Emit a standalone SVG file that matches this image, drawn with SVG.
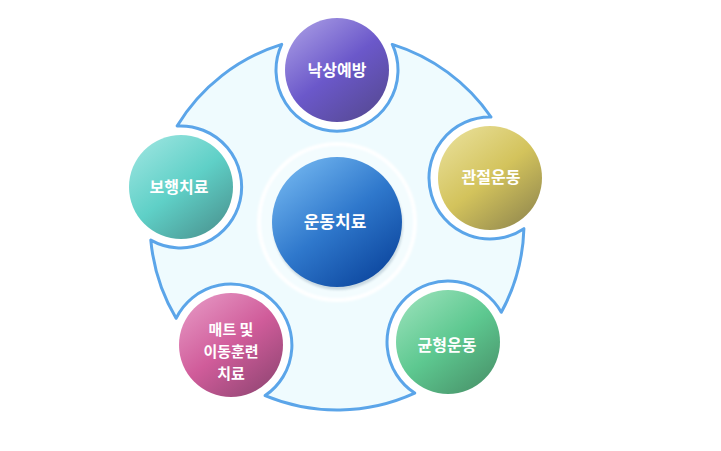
<svg xmlns="http://www.w3.org/2000/svg" width="721" height="451" viewBox="0 0 721 451">
<defs>
<linearGradient id="gPurple" x1="0.15" y1="0.05" x2="0.85" y2="0.95">
<stop offset="0" stop-color="#a396e2"/><stop offset="0.5" stop-color="#6b58ca"/><stop offset="1" stop-color="#574a96"/>
</linearGradient>
<linearGradient id="gYellow" x1="0.15" y1="0.05" x2="0.85" y2="0.95">
<stop offset="0" stop-color="#e7dd94"/><stop offset="0.5" stop-color="#d3c35c"/><stop offset="1" stop-color="#968c4f"/>
</linearGradient>
<linearGradient id="gGreen" x1="0.15" y1="0.05" x2="0.85" y2="0.95">
<stop offset="0" stop-color="#94dfb6"/><stop offset="0.5" stop-color="#5dc890"/><stop offset="1" stop-color="#4a966c"/>
</linearGradient>
<linearGradient id="gPink" x1="0.15" y1="0.05" x2="0.85" y2="0.95">
<stop offset="0" stop-color="#e492c0"/><stop offset="0.5" stop-color="#d05c9a"/><stop offset="1" stop-color="#954776"/>
</linearGradient>
<linearGradient id="gTeal" x1="0.15" y1="0.05" x2="0.85" y2="0.95">
<stop offset="0" stop-color="#97e3de"/><stop offset="0.5" stop-color="#5fd0c7"/><stop offset="1" stop-color="#4c9894"/>
</linearGradient>
<linearGradient id="gBlue" x1="0.15" y1="0.05" x2="0.85" y2="0.95">
<stop offset="0" stop-color="#6fb3ee"/><stop offset="0.5" stop-color="#2f78cc"/><stop offset="1" stop-color="#0c469e"/>
</linearGradient>
<filter id="soft" x="-20%" y="-20%" width="140%" height="140%"><feGaussianBlur stdDeviation="1.2"/></filter>
</defs>
<style>
.lbl{font-family:"Noto Sans CJK KR","Noto Sans",sans-serif;font-weight:bold;font-size:16px;fill:#ffffff;text-anchor:middle}
.ctr{font-size:17px}
.sm{font-size:15px}
.blade{fill:#effbfe;stroke:#5ba5e9;stroke-width:3;stroke-linejoin:round}
</style>
<rect width="721" height="451" fill="#ffffff"/>
<g id="connectors">
<path class="blade" d="M392.3,44.4 A187,187 0 0 1 491.0,117.0 A61,61 0 1 0 523.9,228.7 A187,187 0 0 1 501.3,312.3 A61,61 0 1 0 414.7,393.1 A187,187 0 0 1 265.1,395.6 A61,61 0 1 0 176.1,318.3 A187,187 0 0 1 150.8,240.1 A61,61 0 1 0 177.1,126.0 A187,187 0 0 1 281.7,44.4 A61,61 0 1 0 392.3,44.4 Z"/>
</g>
<g id="center">
<circle cx="337" cy="222" r="78" fill="#f3fcfe" stroke="#ffffff" stroke-width="4" filter="url(#soft)"/>
<circle cx="338" cy="225" r="65" fill="#7f9aae" opacity="0.35" filter="url(#soft)"/>
<circle cx="337" cy="222" r="65" fill="url(#gBlue)"/>
<text class="lbl ctr" x="335" y="228">운동치료</text>
</g>
<g id="n1">
<circle cx="337" cy="70" r="52" fill="url(#gPurple)"/>
<text class="lbl" x="337" y="76">낙상예방</text>
</g>
<g id="n2">
<circle cx="490" cy="178" r="52" fill="url(#gYellow)"/>
<text class="lbl" x="491" y="183">관절운동</text>
</g>
<g id="n3">
<circle cx="448" cy="342" r="52" fill="url(#gGreen)"/>
<text class="lbl" x="447" y="351">균형운동</text>
</g>
<g id="n4">
<circle cx="231" cy="345" r="52" fill="url(#gPink)"/>
<text class="lbl sm" x="231" y="335">매트 및</text>
<text class="lbl sm" x="231" y="357">이동훈련</text>
<text class="lbl sm" x="231" y="379">치료</text>
</g>
<g id="n5">
<circle cx="181" cy="187" r="52" fill="url(#gTeal)"/>
<text class="lbl" x="179" y="193">보행치료</text>
</g>
</svg>
